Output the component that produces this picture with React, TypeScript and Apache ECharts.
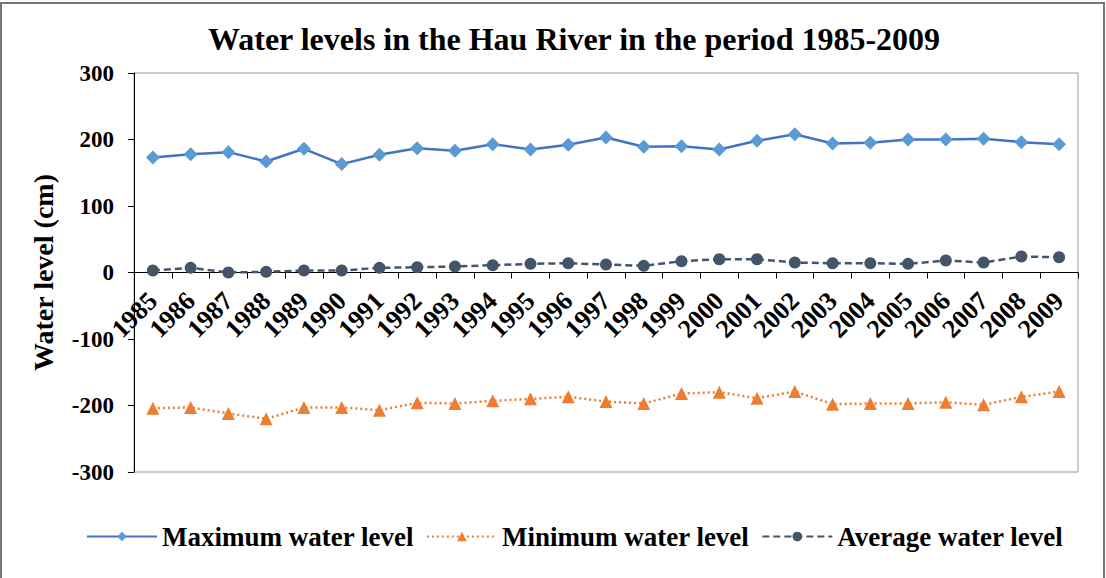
import React, { useEffect, useRef } from "react";
import * as echarts from "echarts";

const years = ["1985","1986","1987","1988","1989","1990","1991","1992","1993","1994","1995","1996","1997","1998","1999","2000","2001","2002","2003","2004","2005","2006","2007","2008","2009"];
const maxLevel = [173,178,181,167,186,163,177,187,183,193,185,192,203,189,190,185,198,208,194,195,200,200,201,196,193];
const minLevel = [-204,-203,-212,-220,-203,-203,-207,-196,-197,-193,-190,-187,-194,-197,-182,-180,-189,-179,-198,-197,-197,-195,-199,-187,-179];
const avgLevel = [3,7,0,1,3,3,7,8,9,11,13,14,12,10,17,20,20,15,14,14,13,18,15,24,23];

const FONT = "'Liberation Serif', 'Times New Roman', serif";

export default function App() {
  const ref = useRef<HTMLDivElement>(null);
  useEffect(() => {
    if (!ref.current) return;
    const chart = echarts.init(ref.current, null, { renderer: "svg" });
    chart.setOption({
      animation: false,
      backgroundColor: "#fff",
      textStyle: { fontFamily: FONT },
      title: {
        text: "Water levels in the Hau River in the period 1985-2009",
        left: 203,
        top: 18,
        textStyle: { fontFamily: FONT, fontWeight: "bold", fontSize: 32, color: "#000" },
      },
      graphic: [
        {
          type: "rect",
          shape: { x: 1, y: 3, width: 1103, height: 580 },
          style: { fill: "none", stroke: "#777", lineWidth: 2 },
          silent: true,
        },
      ],
      grid: {
        left: 134,
        right: 28,
        top: 73,
        bottom: 106,
        show: true,
        borderColor: "#999",
        borderWidth: 1,
        containLabel: false,
      },
      legend: {
        bottom: 23,
        left: 81,
        itemWidth: 70,
        itemHeight: 12,
        itemGap: 12,
        textStyle: { fontFamily: FONT, fontWeight: "bold", fontSize: 27, color: "#000" },
        data: ["Maximum water level", "Minimum water level", "Average water level"],
      },
      xAxis: {
        type: "category",
        data: years,
        boundaryGap: true,
        offset: -199.5,
        axisLine: { onZero: false, lineStyle: { color: "#000", width: 1 } },
        axisTick: { show: true, alignWithLabel: false, length: 6, lineStyle: { color: "#000" } },
        axisLabel: {
          rotate: 45,
          interval: 0,
          margin: 24,
          fontFamily: FONT,
          fontWeight: "bold",
          fontSize: 26,
          color: "#000",
        },
      },
      yAxis: {
        type: "value",
        min: -300,
        max: 300,
        interval: 100,
        name: "Water level (cm)",
        nameLocation: "middle",
        nameGap: 77,
        nameTextStyle: { fontFamily: FONT, fontWeight: "bold", fontSize: 28, color: "#000" },
        axisLine: { show: true, lineStyle: { color: "#000" } },
        axisTick: { show: true, length: 6, lineStyle: { color: "#000" } },
        splitLine: { show: false },
        axisLabel: { fontFamily: FONT, fontWeight: "bold", fontSize: 23, color: "#000", margin: 20 },
      },
      series: [
        {
          name: "Maximum water level",
          type: "line",
          data: maxLevel,
          symbol: "diamond",
          symbolSize: 14,
          lineStyle: { color: "#4472C4", width: 2.5, type: "solid" },
          itemStyle: { color: "#5B9BD5" },
          z: 3,
        },
        {
          name: "Minimum water level",
          type: "line",
          data: minLevel,
          symbol: "triangle",
          symbolSize: 13,
          lineStyle: { color: "#ED7D31", width: 2.5, type: [2, 3] },
          itemStyle: { color: "#ED7D31" },
          z: 3,
        },
        {
          name: "Average water level",
          type: "line",
          data: avgLevel,
          symbol: "circle",
          symbolSize: 12,
          lineStyle: { color: "#44546A", width: 2.5, type: [7, 4] },
          itemStyle: { color: "#44546A" },
          z: 3,
        },
      ],
    });
    return () => chart.dispose();
  }, []);
  return (
    <div
      ref={ref}
      style={{ position: "absolute", left: 0, top: 0, width: 1106, height: 578 }}
    />
  );
}
